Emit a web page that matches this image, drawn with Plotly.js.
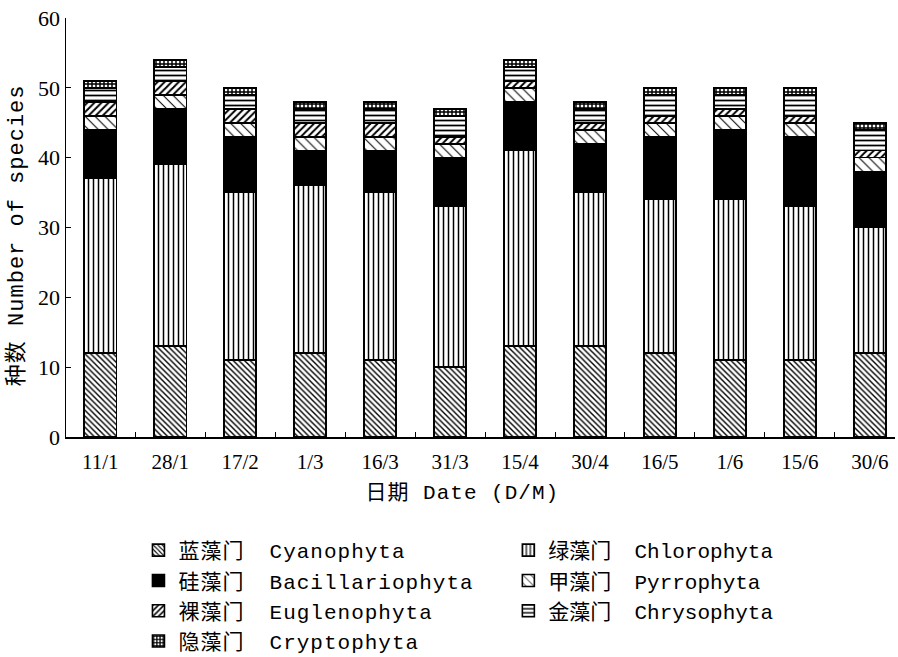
<!DOCTYPE html>
<html>
<head>
<meta charset="utf-8">
<script src="https://cdn.plot.ly/plotly-3.0.1.min.js"></script>
<style>
html,body{margin:0;padding:0;background:#fff;}
#chart{width:898px;height:657px;}
#chart .legendtext, #chart .annotation-text { letter-spacing: 1px; }
#chart .legend .scrollbox { clip-path: none !important; }
</style>
</head>
<body>
<div id="chart"></div>
<script>
// Sampling dates (D/M)
const dates = ['11/1','28/1','17/2','1/3','16/3','31/3','15/4','30/4','16/5','1/6','15/6','30/6'];

// Number of species per phylum
const cyanophyta      = [12,13,11,12,11,10,13,13,12,11,11,12];
const chlorophyta     = [25,26,24,24,24,23,28,22,22,23,22,18];
const bacillariophyta = [7, 8, 8, 5, 6, 7, 7, 7, 9,10,10, 8];
const pyrrophyta      = [2, 2, 2, 2, 2, 2, 2, 2, 2, 2, 2, 2];
const euglenophyta    = [2, 2, 2, 2, 2, 1, 1, 1, 1, 1, 1, 1];
const chrysophyta     = [2, 2, 2, 2, 2, 3, 2, 2, 3, 2, 3, 3];
const cryptophyta     = [1, 1, 1, 1, 1, 1, 1, 1, 1, 1, 1, 1];

// Axis titles
const xTitle = '日期 Date (D/M)';
const yTitle = '种数 Number of species';

const names = [
  '蓝藻门\u2002 Cyanophyta','绿藻门\u2002 Chlorophyta','硅藻门\u2002 Bacillariophyta',
  '甲藻门\u2002 Pyrrophyta','裸藻门\u2002 Euglenophyta','金藻门\u2002 Chrysophyta','隐藻门\u2002 Cryptophyta'
];
const series = [cyanophyta, chlorophyta, bacillariophyta, pyrrophyta, euglenophyta, chrysophyta, cryptophyta];

const patterns = [
  {shape:'\\', size:4, solidity:0.35, fgcolor:'#000', bgcolor:'#fff'},
  {shape:'|',  size:5, solidity:0.3,  fgcolor:'#000', bgcolor:'#fff'},
  null,
  {shape:'\\', size:7, solidity:0.15, fgcolor:'#000', bgcolor:'#fff'},
  {shape:'/',  size:5, solidity:0.4,  fgcolor:'#000', bgcolor:'#fff'},
  {shape:'-',  size:5, solidity:0.35, fgcolor:'#000', bgcolor:'#fff'},
  {shape:'+',  size:4, solidity:0.6,  fgcolor:'#000', bgcolor:'#fff'}
];
const legendOf = ['legend','legend2','legend','legend2','legend','legend2','legend'];

const traces = series.map((vals, i) => {
  const marker = {color: i === 2 ? '#000' : '#fff', line:{color:'#000', width:1.6}};
  if (patterns[i]) marker.pattern = patterns[i];
  return {
    type:'bar', x: dates, y: vals, name: names[i], marker: marker,
    legend: legendOf[i], hoverinfo:'skip'
  };
});

const monoFont = 'Liberation Mono, Noto Sans CJK SC, monospace';
const layout = {
  width: 898, height: 657,
  paper_bgcolor:'#fff', plot_bgcolor:'#fff',
  margin:{l:66, r:3, t:18, b:220, autoexpand:false},
  barmode:'stack', bargap:0.54,
  showlegend:true,
  xaxis:{
    type:'category', range:[-0.49, 11.36], automargin:false,
    showline:true, linecolor:'#000', linewidth:1.5,
    ticks:'inside', ticklen:5, tickwidth:1, tickcolor:'#000', tickson:'boundaries',
    showgrid:false, zeroline:false, tickangle:0,
    tickfont:{family:'Liberation Serif, serif', size:21, color:'#000'},
    ticklabelstandoff:5
  },
  yaxis:{
    range:[0,60], tickvals:[0,10,20,30,40,50,60], automargin:false,
    showline:true, linecolor:'#000', linewidth:1.5,
    ticks:'inside', ticklen:5, tickwidth:1, tickcolor:'#000',
    showgrid:false, zeroline:false,
    tickfont:{family:'Liberation Serif, serif', size:22, color:'#000'}
  },
  annotations:[
    {text:xTitle, xref:'paper', yref:'paper', x:0.4777, y:-0.136, xanchor:'center', yanchor:'middle',
     showarrow:false, font:{family:monoFont, size:21, color:'#000'}},
    {text:yTitle, xref:'paper', yref:'paper', x:-0.059, y:0.482, xanchor:'center', yanchor:'middle',
     textangle:-90, showarrow:false, font:{family:monoFont, size:22, color:'#000'}}
  ],
  legend:{
    x:0.0874, y:-0.222, xanchor:'left', yanchor:'top',
    orientation:'v', traceorder:'normal', bgcolor:'rgba(0,0,0,0)',
    font:{family:monoFont, size:21, color:'#000'}
  },
  legend2:{
    x:0.5336, y:-0.222, xanchor:'left', yanchor:'top',
    orientation:'v', traceorder:'normal', bgcolor:'rgba(0,0,0,0)',
    font:{family:monoFont, size:21, color:'#000'}
  }
};

Plotly.newPlot('chart', traces, layout, {displayModeBar:false, staticPlot:true});
</script>
</body>
</html>
